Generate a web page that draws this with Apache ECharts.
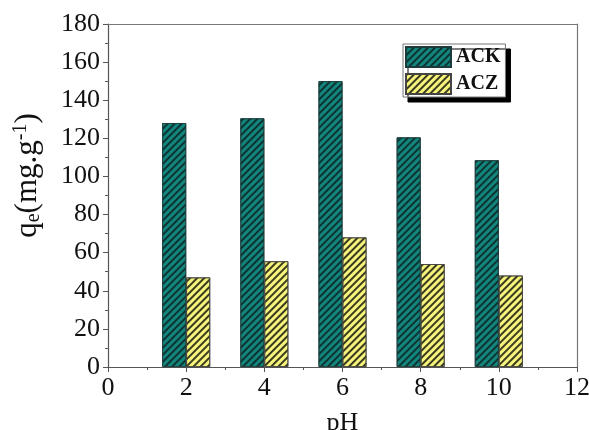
<!DOCTYPE html>
<html><head><meta charset="utf-8">
<script src="https://cdn.jsdelivr.net/npm/echarts@6/dist/echarts.min.js"></script>
<style>html,body{margin:0;padding:0;background:#fff}#c{width:589px;height:430px}</style>
</head><body><div id="c"></div>
<script>
var pH = [2, 4, 6, 8, 10];
var ACK = [128, 130.5, 150, 120.5, 108.5];
var ACZ = [47, 55.5, 68, 54, 48];
var seriesNames = ['ACK', 'ACZ'];

var font = '"Liberation Serif", "Times New Roman", serif';
function pairs(xs, ys){ return xs.map(function(x,i){ return [x, ys[i]]; }); }
var axisCol = '#555';
var chart = echarts.init(document.getElementById('c'));
chart.setOption({
  backgroundColor: '#fff',
  animation: false,
  grid: {left: 108, right: 12, top: 24, bottom: 63, outerBoundsMode: 'none', containLabel: false},
  legend: {
    orient: 'vertical', left: 403, top: 44,
    icon: 'rect',
    itemWidth: 45, itemHeight: 20, itemGap: 5,
    padding: [2, 5, 2, 2],
    backgroundColor: '#fff', borderColor: '#777', borderWidth: 1,
    shadowColor: '#000', shadowOffsetX: 5, shadowOffsetY: 5, shadowBlur: 0.01,
    textStyle: {fontFamily: font, fontSize: 20, fontWeight: 'bold', color: '#111'},
    data: seriesNames
  },
  xAxis: [{
    type: 'value', min: 0, max: 12, interval: 2,
    name: 'pH', nameLocation: 'middle', nameGap: 43,
    nameTextStyle: {fontFamily: font, fontSize: 26, color: '#111'},
    axisLine: {show: true, lineStyle: {color: axisCol, width: 1.2}},
    axisTick: {show: true, inside: false, length: 5, lineStyle: {color: axisCol}},
    minorTick: {show: true, splitNumber: 2, length: 3, lineStyle: {color: axisCol}},
    axisLabel: {fontFamily: font, fontSize: 26, color: '#111', margin: 8},
    splitLine: {show: false}
  }, {
    type: 'value', position: 'top', min: 0, max: 12,
    axisLine: {show: true, onZero: false, lineStyle: {color: '#777', width: 1.2}},
    axisTick: {show: false}, axisLabel: {show: false}, splitLine: {show: false}
  }],
  yAxis: [{
    type: 'value', min: 0, max: 180, interval: 20,
    name: '{n|q}{s|e}{n|(mg.g}{p|-1}{n|)}', nameLocation: 'middle', nameGap: 64, nameRotate: 90,
    nameTextStyle: {
      padding: [0, 0, 0, 40],
      rich: {
        n: {fontFamily: font, fontSize: 31, color: '#111'},
        s: {fontFamily: font, fontSize: 20, color: '#111', verticalAlign: 'bottom', padding: [13, 0, 0, 0]},
        p: {fontFamily: font, fontSize: 20, color: '#111', verticalAlign: 'top', padding: [0, 0, 13, 0]}
      }
    },
    axisLine: {show: true, lineStyle: {color: axisCol, width: 1.2}},
    axisTick: {show: true, inside: false, length: 5, lineStyle: {color: axisCol}},
    minorTick: {show: true, splitNumber: 2, length: 3, lineStyle: {color: axisCol}},
    axisLabel: {fontFamily: font, fontSize: 26, color: '#111', margin: 8},
    splitLine: {show: false}
  }, {
    type: 'value', position: 'right', min: 0, max: 180,
    axisLine: {show: true, onZero: false, lineStyle: {color: '#777', width: 1.2}},
    axisTick: {show: false}, axisLabel: {show: false}, splitLine: {show: false}
  }],
  series: [{
    name: seriesNames[0], type: 'bar', barWidth: 24, barGap: '0%',
    data: pairs(pH, ACK),
    itemStyle: {
      color: '#13857d', borderColor: '#1d3b3a', borderWidth: 0.8,
      decal: {symbol: 'rect', symbolSize: 1, dashArrayX: [1, 0], dashArrayY: [1.5, 2.5], rotation: -Math.PI / 4, color: '#0b3432'}
    }
  }, {
    name: seriesNames[1], type: 'bar', barWidth: 24, barGap: '0%',
    data: pairs(pH, ACZ),
    itemStyle: {
      color: '#f6f47a', borderColor: '#444', borderWidth: 0.8,
      decal: {symbol: 'rect', symbolSize: 1, dashArrayX: [1, 0], dashArrayY: [1.5, 2.5], rotation: -Math.PI / 4, color: '#3a3a20'}
    }
  }]
});
</script></body></html>
